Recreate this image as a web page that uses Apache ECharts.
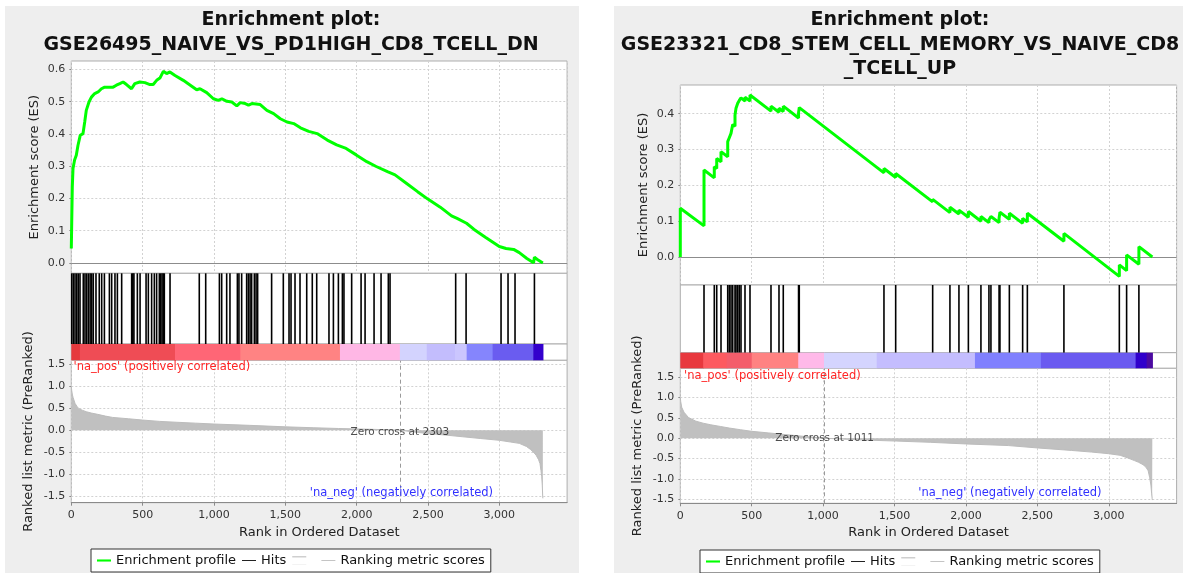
<!DOCTYPE html>
<html><head><meta charset="utf-8">
<script src="https://cdn.jsdelivr.net/npm/echarts@6/dist/echarts.min.js"></script>
<style>html,body{margin:0;padding:0;background:#fff}#c{width:1183px;height:573px}</style>
</head><body><div id="c"></div>
<script>
// ---------------- data ----------------
const xTicks = [0, 500, 1000, 1500, 2000, 2500, 3000];
const xMax = 3475;
const leftESTicks = [0, 0.1, 0.2, 0.3, 0.4, 0.5, 0.6];
const rightESTicks = [0, 0.1, 0.2, 0.3, 0.4];
const metricTicks = [-1.5, -1, -0.5, 0, 0.5, 1, 1.5];

const leftTitle = ['Enrichment plot:', 'GSE26495_NAIVE_VS_PD1HIGH_CD8_TCELL_DN'];
const rightTitle = ['Enrichment plot:', 'GSE23321_CD8_STEM_CELL_MEMORY_VS_NAIVE_CD8', '_TCELL_UP'];
const posLabel = "'na_pos' (positively correlated)";
const negLabel = "'na_neg' (negatively correlated)";
const legendNames = ['Enrichment profile', 'Hits', ' ', 'Ranking metric scores'];

const leftZero = 2303;
const rightZero = 1011;

const leftES = [
  [0,0.045],[7,0.236],[12,0.293],[23,0.319],[35,0.334],[47,0.365],[63,0.396],[82,0.401],[94,0.437],
  [105,0.473],[124,0.499],[141,0.514],[164,0.525],[188,0.530],[211,0.540],[234,0.545],[258,0.545],
  [293,0.545],[316,0.551],[340,0.556],[363,0.561],[387,0.553],[422,0.540],[445,0.556],[480,0.561],
  [516,0.559],[551,0.553],[574,0.553],[598,0.566],[621,0.573],[645,0.594],[668,0.587],[691,0.592],
  [727,0.581],[785,0.566],[844,0.548],[879,0.537],[902,0.540],[949,0.528],[996,0.509],[1031,0.504],
  [1055,0.509],[1090,0.501],[1125,0.499],[1160,0.487],[1184,0.497],[1219,0.494],[1242,0.489],
  [1266,0.494],[1324,0.491],[1371,0.473],[1418,0.463],[1465,0.447],[1512,0.437],[1559,0.432],
  [1606,0.419],[1664,0.408],[1723,0.401],[1794,0.381],[1860,0.366],[1926,0.355],[1997,0.335],
  [2071,0.314],[2137,0.299],[2216,0.283],[2269,0.273],[2348,0.247],[2427,0.221],[2499,0.198],
  [2586,0.173],[2665,0.146],[2704,0.138],[2770,0.123],[2823,0.104],[2902,0.080],[3000,0.051],
  [3047,0.045],[3100,0.042],[3140,0.032],[3193,0.014],[3240,0.001],[3246,0.018],[3272,0.009],[3305,0.0]
];
const leftHits = [
  3,14,26,38,49,61,84,96,108,120,132,143,154,173,196,213,232,267,283,306,323,353,423,431,439,463,482,
  524,540,563,582,598,617,626,636,645,652,692,897,942,1038,1054,1089,1112,1164,1175,1194,1229,1241,
  1253,1264,1283,1295,1306,1404,1486,1526,1540,1568,1603,1650,1689,1720,1806,1837,1872,1900,1911,
  1965,2031,2059,2122,2171,2222,2234,2694,2767,3012,3061,3110,3246
];
const leftBarEdges = [[0,60],[60,727],[727,1185],[1185,1883],[1883,2303],[2303,2491],[2491,2689],[2689,2771],[2771,2953],[2953,3238],[3238,3305]];
const leftBarColors = ['#e6393d','#ef4c55','#ff6676','#ff8383','#ffb7e5','#d3d3fe','#c3bdfd','#cbc6fe','#8585fd','#6a5cf0','#3300cc'];
const leftMetric = [
  [0,1.0],[3,0.9],[8,0.8],[13,0.74],[26,0.61],[40,0.54],[53,0.49],[80,0.45],[105,0.42],[140,0.39],
  [185,0.36],[240,0.32],[290,0.29],[400,0.26],[500,0.23],[620,0.2],[740,0.18],[870,0.16],[1000,0.14],
  [1250,0.11],[1500,0.076],[1700,0.055],[1873,0.038],[2100,0.02],[2303,0],[2400,-0.04],[2500,-0.076],
  [2620,-0.11],[2744,-0.15],[2870,-0.19],[3000,-0.23],[3080,-0.27],[3140,-0.30],[3190,-0.37],
  [3219,-0.44],[3245,-0.52],[3258,-0.57],[3275,-0.67],[3285,-0.76],[3292,-0.92],[3297,-1.06],
  [3301,-1.25],[3304,-1.5],[3305,-1.55]
];

const rightES = [
  [0,0],[0,0.136],[166,0.087],[166,0.243],[238,0.221],[238,0.252],[255,0.247],[255,0.275],[285,0.266],
  [285,0.294],[332,0.28],[332,0.322],[343,0.319],[343,0.333],[355,0.329],[355,0.345],[367,0.341],
  [367,0.37],[383,0.365],[383,0.396],[390,0.394],[390,0.415],[402,0.411],[402,0.429],[413,0.426],
  [413,0.437],[425,0.433],[425,0.444],[453,0.435],[453,0.446],[488,0.435],[488,0.452],[635,0.407],
  [635,0.421],[691,0.404],[691,0.415],[721,0.406],[721,0.421],[828,0.388],[828,0.403],[833,0.401],
  [833,0.417],[1426,0.235],[1426,0.247],[1508,0.222],[1508,0.233],[1767,0.154],[1767,0.161],
  [1888,0.124],[1888,0.139],[1951,0.12],[1951,0.131],[2017,0.111],[2017,0.127],[2105,0.1],[2105,0.113],
  [2161,0.096],[2161,0.104],[2175,0.1],[2175,0.113],[2232,0.096],[2232,0.108],[2238,0.106],[2238,0.125],
  [2304,0.105],[2304,0.122],[2397,0.094],[2397,0.108],[2430,0.098],[2430,0.122],[2686,0.044],
  [2686,0.066],[3074,-0.054],[3074,-0.022],[3125,-0.038],[3125,0.006],[3211,-0.02],[3211,0.029],[3305,0.0]
];
const rightHits = [
  166,238,255,285,332,343,355,367,383,390,402,413,425,453,488,635,691,721,828,833,1426,1508,1767,1888,
  1951,2017,2105,2161,2175,2232,2238,2304,2397,2430,2686,3074,3125,3211
];
const rightBarEdges = [[0,161],[161,325],[325,500],[500,826],[826,1006],[1006,1375],[1375,2063],[2063,2525],[2525,3188],[3188,3265],[3265,3305]];
const rightBarColors = ['#e8383e','#fd5a60','#f45d6b','#ff8282','#ffb9e9','#d4d4fe','#c4bdfe','#8080fe','#6a5af0','#3000cc','#4b0aa0'];
const rightMetric = [
  [0,1.0],[3,0.9],[10,0.76],[26,0.64],[57,0.51],[109,0.42],[160,0.37],[214,0.33],[280,0.29],[344,0.25],
  [420,0.21],[500,0.17],[620,0.13],[734,0.09],[870,0.045],[1011,0],[1255,-0.04],[1516,-0.07],
  [1750,-0.1],[1997,-0.14],[2297,-0.18],[2505,-0.24],[2740,-0.30],[2880,-0.34],[3000,-0.38],
  [3080,-0.42],[3130,-0.48],[3180,-0.55],[3208,-0.59],[3240,-0.65],[3260,-0.71],[3276,-0.8],
  [3286,-0.96],[3295,-1.15],[3300,-1.35],[3304,-1.49],[3305,-1.52]
];

// ---------------- layout ----------------
const FONT = "'DejaVu Sans', Verdana, sans-serif";
const panels = [
  { d: {title:leftTitle, es:leftES, hits:leftHits, barEdges:leftBarEdges, barColors:leftBarColors, metric:leftMetric, zero:leftZero, esTicks:leftESTicks},
    L: {left:71.3, width:495.8, esTop:61, esH:212.3, hitTop:273.3, hitH:70.7, barTop:344, barH:16.3, metTop:360.3, metH:142.4,
        esMin:-0.032, esMax:0.626, metMin:-1.65, metMax:1.59, cx:291, titleY:[20,45], bg:[5,6,574,567],
        legendLeft:91, legendTop:549, posXY:[73.5,367.5], negXY:[493,493.5], zeroOff:[0,2]} },
  { d: {title:rightTitle, es:rightES, hits:rightHits, barEdges:rightBarEdges, barColors:rightBarColors, metric:rightMetric, zero:rightZero, esTicks:rightESTicks},
    L: {left:680.3, width:496.3, esTop:85, esH:200, hitTop:285, hitH:67.7, barTop:352.7, barH:15.6, metTop:368.3, metH:135,
        esMin:-0.078, esMax:0.48, metMin:-1.6, metMax:1.72, cx:900, titleY:[20,45,69], bg:[614,6,569,567],
        legendLeft:700, legendTop:550, posXY:[684,376], negXY:[1101.5,493.5], zeroOff:[0,0]} }
];

const grids = [], xAxes = [], yAxes = [], series = [], legends = [], graphics = [];
const gridBase = {show:true, backgroundColor:'#fff', borderColor:'#adadad', borderWidth:1};
const dashed = {color:'#d2d2d2', type:[2,2], width:1};
const lblStyle = {fontSize:11, color:'#333', fontFamily:FONT};
const nameStyle = {fontSize:13, color:'#222', fontFamily:FONT};

panels.forEach((P, i) => {
  const d = P.d, L = P.L, g = i * 4;
  grids.push(
    Object.assign({left:L.left, top:L.esTop, width:L.width, height:L.esH}, gridBase),
    Object.assign({left:L.left, top:L.hitTop, width:L.width, height:L.hitH}, gridBase),
    Object.assign({left:L.left, top:L.barTop, width:L.width, height:L.barH}, gridBase),
    Object.assign({left:L.left, top:L.metTop, width:L.width, height:L.metH}, gridBase)
  );
  const xb = {type:'value', min:0, max:xMax, interval:500};
  xAxes.push(
    Object.assign({gridIndex:g, axisLine:{show:false}, axisTick:{show:false}, axisLabel:{show:false}, splitLine:{show:true, lineStyle:dashed}}, xb),
    Object.assign({gridIndex:g+1, show:false}, xb),
    Object.assign({gridIndex:g+2, show:false}, xb),
    Object.assign({gridIndex:g+3, axisLine:{show:true, onZero:false, lineStyle:{color:'#8a8a8a'}},
      axisTick:{show:true, customValues:xTicks, length:3, lineStyle:{color:'#8a8a8a'}},
      axisLabel:Object.assign({customValues:xTicks, margin:7, formatter:v => (v % 500 === 0 ? v.toLocaleString('en-US') : '')}, lblStyle),
      splitLine:{show:true, lineStyle:dashed},
      name:'Rank in Ordered Dataset', nameLocation:'middle', nameGap:23, nameTextStyle:nameStyle}, xb)
  );
  yAxes.push(
    {gridIndex:g, type:'value', min:L.esMin, max:L.esMax, axisLine:{show:false},
      axisTick:{show:true, customValues:d.esTicks, length:2, lineStyle:{color:'#8a8a8a'}},
      axisLabel:Object.assign({customValues:d.esTicks, margin:6, formatter:v => v.toFixed(1)}, lblStyle),
      splitLine:{show:false}, name:'Enrichment score (ES)', nameLocation:'middle', nameGap:30, nameTextStyle:nameStyle},
    {gridIndex:g+1, type:'value', min:0, max:1, show:false},
    {gridIndex:g+2, type:'value', min:0, max:1, show:false},
    {gridIndex:g+3, type:'value', min:L.metMin, max:L.metMax, axisLine:{show:false},
      axisTick:{show:true, customValues:metricTicks, length:2, lineStyle:{color:'#8a8a8a'}},
      axisLabel:Object.assign({customValues:metricTicks, margin:6, formatter:v => v.toFixed(1)}, lblStyle),
      splitLine:{show:false}, name:'Ranked list metric (PreRanked)', nameLocation:'middle', nameGap:36.5, nameTextStyle:nameStyle}
  );
  const mlBase = {silent:true, symbol:'none', z:1, animation:false, label:{show:false}, emphasis:{disabled:true}};
  series.push(
    {type:'line', name:legendNames[0], xAxisIndex:g, yAxisIndex:g, data:d.es, symbol:'none', z:3, animation:false,
      lineStyle:{color:'#00ff00', width:3}, itemStyle:{color:'#00ff00'},
      markLine:Object.assign({data:d.esTicks.filter(v => v !== 0).map(v => ({yAxis:v, lineStyle:dashed}))
        .concat([{yAxis:0, lineStyle:{color:'#8c8c8c', type:'solid', width:1}}])}, mlBase)},
    {type:'custom', name:legendNames[1], xAxisIndex:g+1, yAxisIndex:g+1, data:d.hits.map(r => [r, 1]),
      itemStyle:{color:'#000'}, silent:true, animation:false,
      renderItem:(p, api) => {
        const a = api.coord([api.value(0), 0]), b = api.coord([api.value(0), 1]);
        return {type:'line', shape:{x1:a[0], y1:a[1], x2:a[0], y2:b[1]}, style:{stroke:'#000', lineWidth:1.6}};
      }},
    {type:'custom', name:legendNames[2], xAxisIndex:g+2, yAxisIndex:g+2, data:d.barEdges,
      itemStyle:{color:'#cfcfcf'}, silent:true, animation:false,
      renderItem:(p, api) => {
        const a = api.coord([api.value(0), 1]), b = api.coord([api.value(1), 0]);
        return {type:'rect', shape:{x:a[0], y:a[1], width:b[0]-a[0]+0.6, height:b[1]-a[1]}, style:{fill:d.barColors[p.dataIndex]}};
      }},
    {type:'line', name:legendNames[3], xAxisIndex:g+3, yAxisIndex:g+3, data:d.metric, symbol:'none', z:3, animation:false,
      lineStyle:{color:'#bcbcbc', width:1}, itemStyle:{color:'#c8c8c8'}, areaStyle:{color:'#c0c0c0', opacity:1, origin:'auto'},
      markLine:Object.assign({data:metricTicks.map(v => ({yAxis:v, lineStyle:dashed}))
        .concat([{xAxis:d.zero, lineStyle:{color:'#9a9a9a', type:[4,3], width:1}}])}, mlBase)},
    {type:'scatter', xAxisIndex:g+3, yAxisIndex:g+3, data:[[d.zero, 0]], symbolSize:1, z:6, silent:true, animation:false,
      itemStyle:{color:'rgba(0,0,0,0)'},
      label:{show:true, position:'inside', offset:L.zeroOff, formatter:'Zero cross at ' + d.zero, fontSize:10.5, color:'#222', fontFamily:FONT}}
  );
  legends.push({
    left:L.legendLeft, top:L.legendTop, orient:'horizontal', padding:[5,6], itemGap:6, itemWidth:14, itemHeight:14,
    borderColor:'#333', borderWidth:1, backgroundColor:'#fff', selectedMode:false,
    textStyle:{fontSize:13, color:'#111', fontFamily:FONT},
    data:[
      {name:legendNames[0], icon:'path://M0,0h20v3h-20z', itemStyle:{color:'#00ff00'}},
      {name:legendNames[1], icon:'path://M0,0h20v1.5h-20z', itemStyle:{color:'#222'}},
      {name:legendNames[2], icon:'path://M0,0h16v1.5h-16zM0,10h16v0.05h-16z', itemStyle:{color:'#cfcfcf'}},
      {name:legendNames[3], icon:'path://M0,0h20v1.5h-20z', itemStyle:{color:'#c4c4c4'}}
    ]
  });
  graphics.push({type:'rect', z:-100, shape:{x:L.bg[0], y:L.bg[1], width:L.bg[2], height:L.bg[3]}, style:{fill:'#eeeeee'}, silent:true});
  d.title.forEach((t, k) => graphics.push({type:'text', z:100, x:L.cx, y:L.titleY[k], silent:true,
    style:{text:t, font:"bold 19px 'DejaVu Sans'", fill:'#111', align:'center', verticalAlign:'middle', textAlign:'center', textVerticalAlign:'middle'}}));
  graphics.push({type:'text', z:100, x:L.posXY[0], y:L.posXY[1], silent:true,
    style:{text:posLabel, font:"11.5px 'DejaVu Sans'", fill:'#ff2424', align:'left', verticalAlign:'middle', textAlign:'left', textVerticalAlign:'middle'}});
  graphics.push({type:'text', z:100, x:L.negXY[0], y:L.negXY[1], silent:true,
    style:{text:negLabel, font:"11.5px 'DejaVu Sans'", fill:'#3030ff', align:'right', verticalAlign:'middle', textAlign:'right', textVerticalAlign:'middle'}});
});

const chart = echarts.init(document.getElementById('c'), null, {renderer:'canvas'});
chart.setOption({
  animation:false,
  backgroundColor:'#ffffff',
  textStyle:{fontFamily:FONT},
  grid:grids, xAxis:xAxes, yAxis:yAxes, series:series, legend:legends,
  graphic:{elements:graphics}
});
</script></body></html>
